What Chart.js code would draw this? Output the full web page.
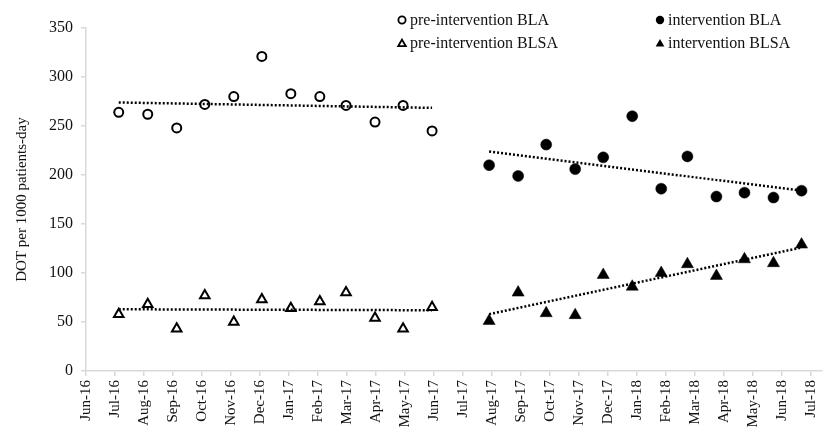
<!DOCTYPE html>
<html>
<head>
<meta charset="utf-8">
<script src="https://cdn.jsdelivr.net/npm/chart.js@4.4.1/dist/chart.umd.min.js"></script>
<style>
  html, body { margin: 0; padding: 0; background: #fff; }
  #wrap { width: 833px; height: 428px; position: relative; }
</style>
</head>
<body>
<div id="wrap"><canvas id="chart"></canvas></div>
<script>
// axis labels (one tick every 31 days, as in the original date axis)
const tickLabels = ['Jun-16', 'Jul-16', 'Aug-16', 'Sep-16', 'Oct-16', 'Nov-16', 'Dec-16', 'Jan-17', 'Feb-17',
    'Mar-17', 'Apr-17', 'May-17', 'Jun-17', 'Jul-17', 'Aug-17', 'Sep-17', 'Oct-17', 'Nov-17', 'Dec-17',
    'Jan-18', 'Feb-18', 'Mar-18', 'Apr-18', 'May-18', 'Jun-18', 'Jul-18'];
const yTicks = [0, 50, 100, 150, 200, 250, 300, 350];

// months of each period
const preMonths = ['Jul-16', 'Aug-16', 'Sep-16', 'Oct-16', 'Nov-16', 'Dec-16', 'Jan-17', 'Feb-17', 'Mar-17', 'Apr-17', 'May-17', 'Jun-17'];
const intMonths = ['Aug-17', 'Sep-17', 'Oct-17', 'Nov-17', 'Dec-17', 'Jan-18', 'Feb-18', 'Mar-18', 'Apr-18', 'May-18', 'Jun-18', 'Jul-18'];

// DOT per 1000 patients-day
const preBLA = [264, 262, 248, 272, 280, 321, 283, 280, 271, 254, 271, 245];
const preBLSA = [58, 68, 43, 77, 50, 73, 64, 71, 80, 54, 43, 65];
const intBLA = [210, 199, 231, 206, 218, 260, 186, 219, 178, 182, 177, 184];
const intBLSA = [51, 80, 59, 57, 98, 86, 100, 109, 97, 114, 110, 129];

// trend line values at the first and last month of each period
const trendPreBLA = [274, 268.5];
const trendPreBLSA = [63, 62];
const trendIntBLA = [224, 184];
const trendIntBLSA = [58, 126];

const monthNames = ['Jan', 'Feb', 'Mar', 'Apr', 'May', 'Jun', 'Jul', 'Aug', 'Sep', 'Oct', 'Nov', 'Dec'];
const axisStart = Date.UTC(2016, 5, 10);

function dayOf(label) {
    const parts = label.split('-');
    const m = monthNames.indexOf(parts[0]);
    const y = 2000 + parseInt(parts[1], 10);
    return (Date.UTC(y, m, 15) - axisStart) / 86400000;
}

function toPoints(months, values) {
    return months.map((mo, i) => ({ x: dayOf(mo), y: values[i] }));
}

function trendPoints(months, ends) {
    return [{ x: dayOf(months[0]), y: ends[0] }, { x: dayOf(months[months.length - 1]), y: ends[1] }];
}

const serif = 'Liberation Serif, Times New Roman, serif';
const textColor = '#111';
const axisColor = '#d9d9d9';

function trendSet(data) {
    return {
        label: 'trend',
        data: data,
        showLine: true,
        pointRadius: 0,
        borderColor: '#000',
        borderWidth: 2.5,
        borderDash: [2, 2],
        fill: false
    };
}

const datasets = [
    trendSet(trendPoints(preMonths, trendPreBLA)),
    trendSet(trendPoints(preMonths, trendPreBLSA)),
    trendSet(trendPoints(intMonths, trendIntBLA)),
    trendSet(trendPoints(intMonths, trendIntBLSA)),
    {
        label: 'pre-intervention BLA', data: toPoints(preMonths, preBLA),
        pointStyle: 'circle', pointRadius: 4.5, borderWidth: 2,
        borderColor: '#000', backgroundColor: 'rgba(0,0,0,0)'
    },
    {
        label: 'pre-intervention BLSA', data: toPoints(preMonths, preBLSA),
        pointStyle: 'triangle', pointRadius: 5.5, borderWidth: 2,
        borderColor: '#000', backgroundColor: 'rgba(0,0,0,0)'
    },
    {
        label: 'intervention BLA', data: toPoints(intMonths, intBLA),
        pointStyle: 'circle', pointRadius: 5.5, borderWidth: 0.5,
        borderColor: '#000', backgroundColor: '#000'
    },
    {
        label: 'intervention BLSA', data: toPoints(intMonths, intBLSA),
        pointStyle: 'triangle', pointRadius: 7, borderWidth: 0.5,
        borderColor: '#000', backgroundColor: '#000'
    }
];

// legend drawn in two columns like the original
function drawMarker(ctx, style, filled, x, y, r) {
    ctx.save();
    ctx.beginPath();
    if (style === 'circle') {
        ctx.arc(x, y, r, 0, Math.PI * 2);
    } else {
        ctx.moveTo(x, y - r);
        ctx.lineTo(x + r * 0.866, y + r * 0.5);
        ctx.lineTo(x - r * 0.866, y + r * 0.5);
        ctx.closePath();
    }
    if (filled) {
        ctx.fillStyle = '#000';
        ctx.fill();
    } else {
        ctx.lineWidth = 1.8;
        ctx.strokeStyle = '#000';
        ctx.stroke();
    }
    ctx.restore();
}

const legendPlugin = {
    id: 'twoColLegend',
    afterDraw(chart) {
        const ctx = chart.ctx;
        const items = [
            { ds: chart.data.datasets[4], x: 402, y: 20, filled: false, r: 3.6 },
            { ds: chart.data.datasets[5], x: 402, y: 43, filled: false, r: 4.4 },
            { ds: chart.data.datasets[6], x: 660, y: 20, filled: true, r: 4.2 },
            { ds: chart.data.datasets[7], x: 660, y: 43, filled: true, r: 5 }
        ];
        ctx.save();
        ctx.font = '16px ' + serif;
        ctx.textBaseline = 'middle';
        items.forEach(it => {
            drawMarker(ctx, it.ds.pointStyle, it.filled, it.x, it.y + (it.ds.pointStyle === 'triangle' ? 1 : 0), it.r);
            ctx.fillStyle = textColor;
            ctx.fillText(it.ds.label, it.x + 8, it.y + 1);
        });
        ctx.restore();
    }
};

new Chart(document.getElementById('chart'), {
    type: 'scatter',
    data: { datasets: datasets },
    plugins: [legendPlugin],
    options: {
        responsive: true,
        maintainAspectRatio: false,
        animation: false,
        layout: { padding: { top: 28, right: 0, left: 0, bottom: 0 } },
        plugins: {
            legend: { display: false },
            tooltip: { enabled: false }
        },
        scales: {
            x: {
                type: 'linear',
                min: 0,
                max: 787,
                afterBuildTicks: scale => {
                    scale.ticks = tickLabels.map((_, i) => ({ value: i * 31 }));
                },
                afterFit: scale => { scale.height = 57; },
                ticks: {
                    autoSkip: false,
                    minRotation: 90,
                    maxRotation: 90,
                    padding: 4,
                    color: textColor,
                    font: { family: serif, size: 15 },
                    callback: v => tickLabels[Math.round(v / 31)]
                },
                grid: { drawOnChartArea: false, drawTicks: true, tickLength: 5, color: axisColor, lineWidth: 1.5 },
                border: { color: axisColor, width: 1.5 }
            },
            y: {
                min: 0,
                max: 350,
                afterBuildTicks: scale => {
                    scale.ticks = yTicks.map(v => ({ value: v }));
                },
                afterFit: scale => { scale.width = 86; },
                ticks: {
                    padding: 8,
                    color: textColor,
                    font: { family: serif, size: 16 }
                },
                grid: { drawOnChartArea: false, drawTicks: true, tickLength: 5, color: axisColor, lineWidth: 1.5 },
                border: { color: axisColor, width: 1.5 },
                title: {
                    display: true,
                    text: 'DOT per 1000 patients-day',
                    color: textColor,
                    font: { family: serif, size: 15 },
                    padding: { top: 13, bottom: 0 }
                }
            }
        }
    }
});
</script>
</body>
</html>
